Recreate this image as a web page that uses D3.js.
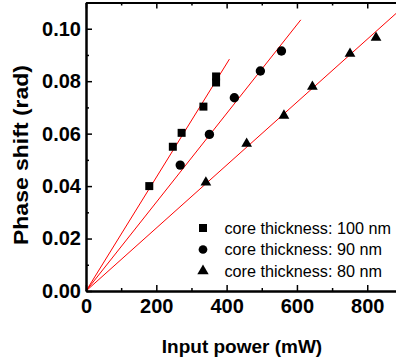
<!DOCTYPE html>
<html>
<head>
<meta charset="utf-8">
<script src="https://cdn.jsdelivr.net/npm/d3@7"></script>
<style>
    body { margin: 0; background: #fff; }
    svg { display: block; font-family: Arial, "Liberation Sans", sans-serif; }
</style>
</head>
<body>
<div id="wrapper"></div>
<script>
// Data
const seriesNames = ["core thickness: 100 nm", "core thickness: 90 nm", "core thickness: 80 nm"]
const power100 = [180, 247, 272, 334, 370, 370]
const shift100 = [0.0400, 0.0550, 0.0603, 0.0703, 0.0818, 0.0795]
const power90 = [268, 351, 422, 496, 556]
const shift90 = [0.0480, 0.0597, 0.0737, 0.0839, 0.0915]
const power80 = [341, 457, 563, 644, 751, 825]
const shift80 = [0.0414, 0.0562, 0.0669, 0.0779, 0.0905, 0.0966]
// linear fits through the origin (rad per mW) and where each fit line stops
const fitSlopes = [2.167e-4, 1.692e-4, 1.2e-4]
const fitEnds = [408, 611, 900]
const xTicks = [0, 200, 400, 600, 800]
const xMinorTicks = [100, 300, 500, 700, 900]
const yTicks = [0, 0.02, 0.04, 0.06, 0.08, 0.10]
const yMinorTicks = [0.01, 0.03, 0.05, 0.07, 0.09, 0.11]

function drawChart() {
    const dimensions = {
        width: 396,
        height: 360,
        margin: { top: 2.5, right: -6.4, bottom: 69, left: 86 },
    }
    dimensions.boundedWidth = dimensions.width - dimensions.margin.left - dimensions.margin.right
    dimensions.boundedHeight = dimensions.height - dimensions.margin.top - dimensions.margin.bottom

    const wrapper = d3.select("#wrapper")
        .append("svg")
        .attr("width", dimensions.width)
        .attr("height", dimensions.height)

    const bounds = wrapper.append("g")
        .attr("transform", `translate(${dimensions.margin.left},${dimensions.margin.top})`)

    // the frame runs past the right edge of the picture, so 900 mW is clipped
    const xScale = d3.scaleLinear()
        .domain([0, 900])
        .range([0, dimensions.boundedWidth])

    const yScale = d3.scaleLinear()
        .domain([0, 0.11])
        .range([dimensions.boundedHeight, 0])

    // fit lines
    const fitLine = d3.line()
        .x(d => xScale(d[0]))
        .y(d => yScale(d[1]))
    fitSlopes.forEach((slope, i) => {
        bounds.append("path")
            .attr("d", fitLine([[0, 0], [fitEnds[i], slope * fitEnds[i]]]))
            .attr("fill", "none")
            .attr("stroke", "#ff0000")
            .attr("stroke-width", 1)
    })

    // markers
    const symbolTypes = [d3.symbolSquare, d3.symbolCircle, d3.symbolTriangle]
    const symbolSizes = [64, 69, 50]
    const seriesData = [
        d3.zip(power100, shift100),
        d3.zip(power90, shift90),
        d3.zip(power80, shift80),
    ]
    seriesData.forEach((points, i) => {
        const symbol = d3.symbol().type(symbolTypes[i]).size(symbolSizes[i])
        bounds.append("g")
            .selectAll("path")
            .data(points)
            .join("path")
            .attr("transform", d => `translate(${xScale(d[0])},${yScale(d[1])})`)
            .attr("d", symbol)
            .attr("fill", "#000")
    })

    // axes, ticks pointing inward
    const xAxis = bounds.append("g")
        .attr("transform", `translate(0,${dimensions.boundedHeight})`)
        .call(d3.axisBottom(xScale).tickValues(xTicks).tickSize(-6).tickSizeOuter(0).tickPadding(8))
    bounds.append("g")
        .attr("transform", `translate(0,${dimensions.boundedHeight})`)
        .call(d3.axisBottom(xScale).tickValues(xMinorTicks).tickSize(-3).tickSizeOuter(0).tickFormat(""))

    const topAxis = bounds.append("g")
        .call(d3.axisTop(xScale).tickValues(xTicks).tickSize(-6).tickSizeOuter(0).tickFormat(""))
    bounds.append("g")
        .call(d3.axisTop(xScale).tickValues(xMinorTicks).tickSize(-3).tickSizeOuter(0).tickFormat(""))

    const yAxis = bounds.append("g")
        .call(d3.axisLeft(yScale).tickValues(yTicks).tickSize(-6).tickSizeOuter(0).tickPadding(5)
            .tickFormat(d3.format(".2f")))
    bounds.append("g")
        .call(d3.axisLeft(yScale).tickValues(yMinorTicks).tickSize(-3).tickSizeOuter(0).tickFormat(""))

    bounds.selectAll(".domain")
        .attr("stroke", "#000")
        .attr("stroke-width", 2)
    bounds.selectAll(".tick line")
        .attr("stroke", "#000")
        .attr("stroke-width", 1.5)
    bounds.selectAll(".tick text")
        .attr("fill", "#000")
        .style("font-size", "20px")
        .style("font-weight", "bold")
        .style("font-family", "Arial, 'Liberation Sans', sans-serif")

    // axis titles
    wrapper.append("text")
        .attr("x", 242)
        .attr("y", 353)
        .attr("text-anchor", "middle")
        .style("font-size", "19px")
        .style("font-weight", "bold")
        .text("Input power (mW)")

    wrapper.append("text")
        .attr("transform", "translate(28,155) rotate(-90)")
        .attr("text-anchor", "middle")
        .attr("textLength", 180)
        .attr("lengthAdjust", "spacingAndGlyphs")
        .style("font-size", "21px")
        .style("font-weight", "bold")
        .text("Phase shift (rad)")

    // legend
    const legend = wrapper.append("g")
        .attr("transform", "translate(203,228)")
    const legendSizes = [64, 60, 56]
    seriesNames.forEach((name, i) => {
        const row = legend.append("g")
            .attr("transform", `translate(0,${i * 21.5})`)
        row.append("path")
            .attr("d", d3.symbol().type(symbolTypes[i]).size(legendSizes[i]))
            .attr("fill", "#000")
        row.append("text")
            .attr("x", 21.5)
            .attr("y", 5.5)
            .style("font-size", "16.2px")
            .text(name)
    })
}

drawChart()
</script>
</body>
</html>
